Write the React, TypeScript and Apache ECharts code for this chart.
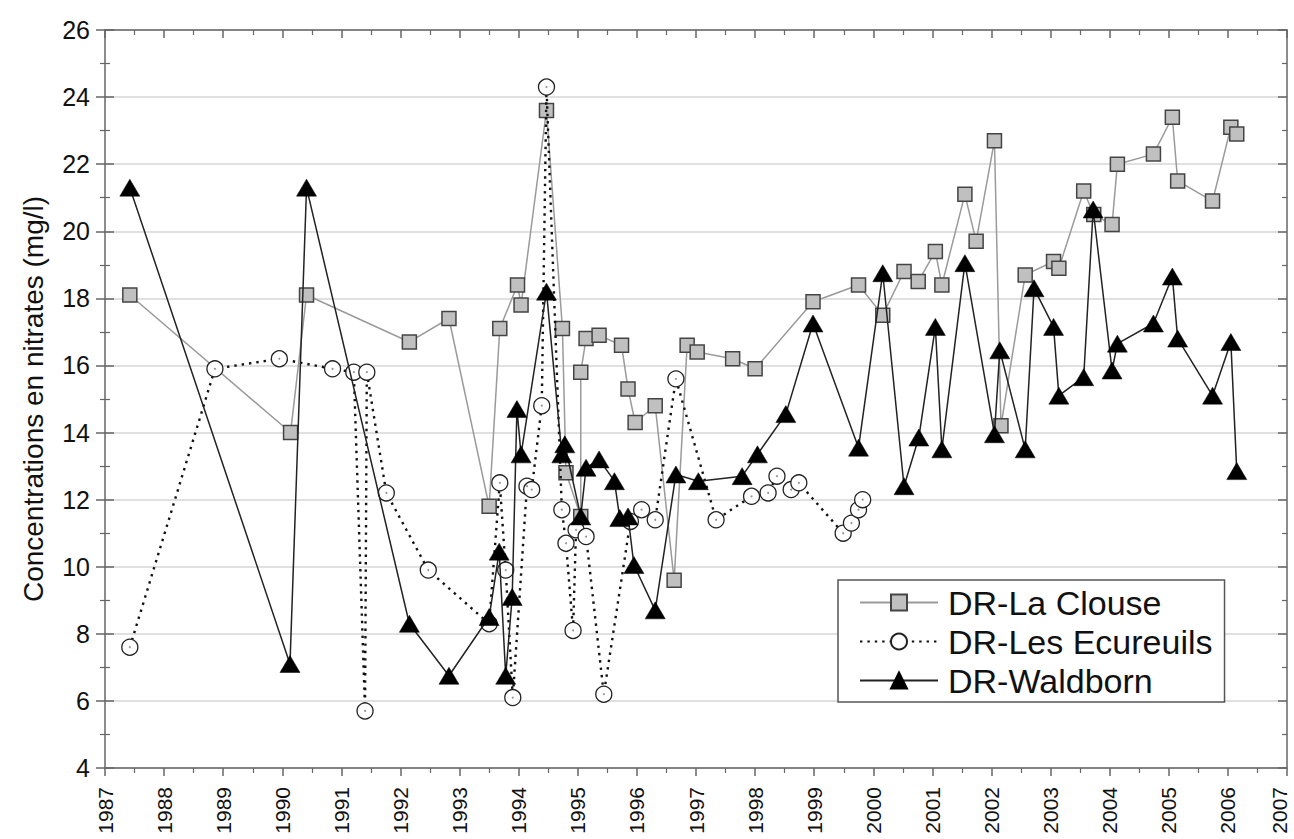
import React, { useEffect, useRef } from "react";
import * as echarts from "echarts";

// ---- Data ----
const laClouseX = [
  1987.42, 1990.14, 1990.41, 1992.15, 1992.82, 1993.5, 1993.68, 1993.98, 1994.04, 1994.47,
  1994.74, 1994.8, 1995.05, 1995.05, 1995.14, 1995.36, 1995.74, 1995.85, 1995.97, 1996.31,
  1996.63, 1996.85, 1997.02, 1997.62, 1998.0, 1998.98, 1999.75, 2000.16, 2000.52, 2000.76,
  2001.05, 2001.16, 2001.55, 2001.74, 2002.05, 2002.16, 2002.57, 2003.05, 2003.14, 2003.56,
  2003.73, 2004.04, 2004.13, 2004.74, 2005.06, 2005.15, 2005.74, 2006.05, 2006.15,
];
const laClouseY = [
  18.1, 14.0, 18.1, 16.7, 17.4, 11.8, 17.1, 18.4, 17.8, 23.6,
  17.1, 12.8, 11.5, 15.8, 16.8, 16.9, 16.6, 15.3, 14.3, 14.8,
  9.6, 16.6, 16.4, 16.2, 15.9, 17.9, 18.4, 17.5, 18.8, 18.5,
  19.4, 18.4, 21.1, 19.7, 22.7, 14.2, 18.7, 19.1, 18.9, 21.2,
  20.5, 20.2, 22.0, 22.3, 23.4, 21.5, 20.9, 23.1, 22.9,
];

const ecureuilsX = [
  1987.42, 1988.86, 1989.95, 1990.85, 1991.21, 1991.4, 1991.43, 1991.76, 1992.47, 1993.5,
  1993.68, 1993.78, 1993.9, 1994.14, 1994.22, 1994.39, 1994.47, 1994.73, 1994.8, 1994.92,
  1994.97, 1995.14, 1995.44, 1995.89, 1996.08, 1996.31, 1996.66, 1997.34, 1997.94, 1998.22,
  1998.37, 1998.61, 1998.74, 1999.49, 1999.63, 1999.75, 1999.82,
];
const ecureuilsY = [
  7.6, 15.9, 16.2, 15.9, 15.8, 5.7, 15.8, 12.2, 9.9, 8.3,
  12.5, 9.9, 6.1, 12.4, 12.3, 14.8, 24.3, 11.7, 10.7, 8.1,
  11.1, 10.9, 6.2, 11.35, 11.7, 11.4, 15.6, 11.4, 12.1, 12.2,
  12.7, 12.3, 12.5, 11.0, 11.3, 11.7, 12.0,
];

const waldbornX = [
  1987.42, 1990.13, 1990.41, 1992.15, 1992.82, 1993.5, 1993.67, 1993.78, 1993.89, 1993.97,
  1994.04, 1994.47, 1994.73, 1994.78, 1995.05, 1995.14, 1995.36, 1995.62, 1995.71, 1995.85,
  1995.95, 1996.31, 1996.66, 1997.04, 1997.78, 1998.04, 1998.52, 1998.98, 1999.75, 2000.16,
  2000.52, 2000.77, 2001.05, 2001.16, 2001.55, 2002.05, 2002.14, 2002.57, 2002.72, 2003.05,
  2003.14, 2003.56, 2003.72, 2004.04, 2004.13, 2004.74, 2005.06, 2005.15, 2005.74, 2006.05,
  2006.15,
];
const waldbornY = [
  21.3, 7.1, 21.3, 8.3, 6.75, 8.5, 10.45, 6.75, 9.1, 14.7,
  13.35, 18.2, 13.35, 13.65, 11.5, 12.95, 13.2, 12.55, 11.45, 11.5,
  10.05, 8.7, 12.75, 12.55, 12.7, 13.35, 14.55, 17.25, 13.55, 18.75,
  12.4, 13.85, 17.15, 13.5, 19.05, 13.95, 16.45, 13.5, 18.3, 17.15,
  15.1, 15.65, 20.65, 15.85, 16.65, 17.25, 18.65, 16.8, 15.1, 16.7,
  12.85,
];

const seriesNames = ["DR-La Clouse", "DR-Les Ecureuils", "DR-Waldborn"];
const yAxisTitle = "Concentrations en nitrates (mg/l)";
const xMin = 1987;
const xMax = 2007;
const yMin = 4;
const yMax = 26;

const pairs = (xs: number[], ys: number[]) => xs.map((x, i) => [x, ys[i]]);

const FONT = "'Liberation Sans', Arial, Helvetica, sans-serif";
const AXIS = "#666";

export default function App() {
  const ref = useRef<HTMLDivElement>(null);

  useEffect(() => {
    if (!ref.current) return;
    const chart = echarts.init(ref.current, undefined, { renderer: "svg" });

    const tickLine = { color: AXIS, width: 1.5 };
    const minorLine = { color: AXIS, width: 1.2 };

    const option: any = {
      animation: false,
      backgroundColor: "#fff",
      textStyle: { fontFamily: FONT, color: "#000" },
      grid: { left: 105, right: 7, top: 30, bottom: 71, containLabel: false, outerBoundsMode: "none" },
      legend: {
        data: seriesNames,
        orient: "vertical",
        left: 838,
        top: 580,
        padding: [3, 12, 2, 21],
        itemWidth: 78,
        itemHeight: 20,
        itemGap: 0,
        backgroundColor: "#fff",
        borderColor: "#555",
        borderWidth: 1.5,
        borderRadius: 0,
        textStyle: { fontSize: 34, lineHeight: 39, color: "#111", fontFamily: FONT, padding: [0, 0, 0, 5] },
        selectedMode: false,
      },
      xAxis: [
        {
          type: "value",
          min: xMin,
          max: xMax,
          interval: 1,
          position: "bottom",
          axisLine: { show: true, onZero: false, lineStyle: tickLine },
          axisTick: { show: true, inside: false, length: 8, lineStyle: tickLine },
          minorTick: { show: true, splitNumber: 2, length: 5, lineStyle: minorLine },
          axisLabel: {
            rotate: 90,
            fontSize: 21,
            margin: 19,
            color: "#111",
            fontFamily: FONT,
            formatter: (v: number) => (v === xMax ? `{e|${v}}` : String(v)),
            rich: {
              e: { fontSize: 21, fontFamily: FONT, color: "#111", padding: [0, 0, 16, 0] },
            },
          },
          splitLine: { show: false },
        },
        {
          type: "value",
          min: xMin,
          max: xMax,
          interval: 1,
          position: "top",
          axisLine: { show: true, onZero: false, lineStyle: tickLine },
          axisTick: { show: true, inside: true, length: 8, lineStyle: tickLine },
          minorTick: { show: true, splitNumber: 2, length: 5, lineStyle: minorLine },
          axisLabel: { show: false },
          splitLine: { show: false },
        },
      ],
      yAxis: [
        {
          type: "value",
          min: yMin,
          max: yMax,
          interval: 2,
          position: "left",
          name: yAxisTitle,
          nameLocation: "middle",
          nameGap: 58,
          nameTextStyle: { fontSize: 28, color: "#111", fontFamily: FONT },
          axisLine: { show: true, onZero: false, lineStyle: tickLine },
          axisTick: { show: true, inside: false, length: 9, lineStyle: tickLine },
          minorTick: { show: true, splitNumber: 2, length: 5, lineStyle: minorLine },
          axisLabel: { fontSize: 25, margin: 15, color: "#111", fontFamily: FONT },
          splitLine: { show: true, lineStyle: { color: "#d6d6d6", width: 1.5 } },
        },
        {
          type: "value",
          min: yMin,
          max: yMax,
          interval: 2,
          position: "left",
          axisLine: { show: false },
          axisTick: { show: true, inside: true, length: 9, lineStyle: tickLine },
          minorTick: { show: true, splitNumber: 2, length: 5, lineStyle: minorLine },
          axisLabel: { show: false },
          splitLine: { show: false },
        },
        {
          type: "value",
          min: yMin,
          max: yMax,
          interval: 2,
          position: "right",
          axisLine: { show: true, onZero: false, lineStyle: tickLine },
          axisTick: { show: true, inside: true, length: 9, lineStyle: tickLine },
          minorTick: { show: true, splitNumber: 2, length: 5, lineStyle: minorLine },
          axisLabel: { show: false },
          splitLine: { show: false },
        },
      ],
      series: [
        {
          name: seriesNames[0],
          type: "line",
          data: pairs(laClouseX, laClouseY),
          symbol: "rect",
          symbolSize: 14,
          itemStyle: { color: "#c0c0c0", borderColor: "#444", borderWidth: 1.5 },
          lineStyle: { color: "#9a9a9a", width: 1.5 },
          z: 2,
        },
        {
          name: seriesNames[1],
          type: "line",
          data: pairs(ecureuilsX, ecureuilsY),
          symbol: "circle",
          symbolSize: 16,
          itemStyle: { color: "#fff", borderColor: "#222", borderWidth: 1.3 },
          lineStyle: { color: "#111", width: 2.4, type: [2.4, 5], cap: "butt" },
          z: 3,
        },
        {
          name: "dots",
          type: "scatter",
          data: pairs(ecureuilsX, ecureuilsY),
          symbol: "circle",
          symbolSize: 2,
          itemStyle: { color: "#777" },
          silent: true,
          z: 4,
        },
        {
          name: seriesNames[2],
          type: "line",
          data: pairs(waldbornX, waldbornY),
          symbol: "triangle",
          symbolSize: [20, 17],
          itemStyle: { color: "#000", borderColor: "#000", borderWidth: 0.5 },
          lineStyle: { color: "#222", width: 1.5 },
          z: 5,
        },
      ],
    };

    chart.setOption(option);
    return () => chart.dispose();
  }, []);

  return (
    <div
      ref={ref}
      style={{ position: "absolute", left: 0, top: 0, width: 1294, height: 839, background: "#fff" }}
    />
  );
}
